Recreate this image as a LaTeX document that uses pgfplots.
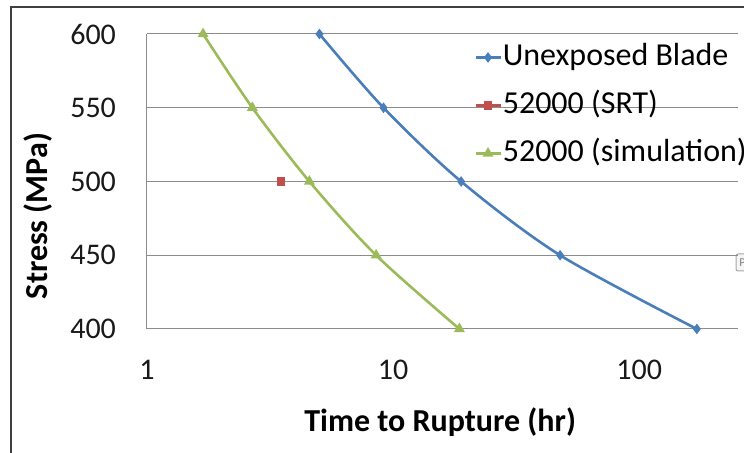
\documentclass[border=0pt]{standalone}
\usepackage{pgfplots}
\pgfplotsset{compat=1.18}
\usepackage{fontspec}
\setmainfont{Carlito}

\definecolor{xlblue}{HTML}{4A7EBB}
\definecolor{xlred}{HTML}{C0504D}
\definecolor{xlgreen}{HTML}{9BBB59}
\definecolor{gridgray}{HTML}{8C8C8C}

\begin{document}
\begin{tikzpicture}
% 1 px of the reference = 0.5pt
\path[use as bounding box] (0,0) rectangle (372pt,226.5pt);
\draw[black!75, line width=0.8pt] (5.5pt,0) -- (5.5pt,223pt) -- (372pt,223pt);
% paste-options button cut off at the right edge
\draw[gray!70, fill=gray!8, rounded corners=1pt, line width=0.5pt] (368pt,91pt) rectangle (380pt,99.5pt);
\node[anchor=west, inner sep=0pt, font=\fontsize{6}{7}\selectfont, gray] at (369.5pt,95.3pt) {P};

\begin{axis}[
    at={(73.5pt,62pt)}, anchor=south west,
    width=295.5pt, height=147.5pt, scale only axis,
    xmode=log,
    xmin=1, xmax=252,
    ymin=400, ymax=600,
    xtick={1,10,100}, xticklabels={1,10,100},
    ytick={400,450,500,550,600}, yticklabels={400,450,500,550,600},
    xminorticks=false, minor tick length=0pt,
    axis x line*=bottom, axis y line*=left,
    axis line style={gridgray, line width=0.5pt, -},
    ymajorgrids,
    grid style={gridgray, line width=0.5pt},
    major tick length=0pt,
    tick label style={font=\fontsize{15}{17}\selectfont, black!90},
    xticklabel style={yshift=-12pt},
    yticklabel style={xshift=-12pt},
    xlabel={Time to Rupture (hr)},
    ylabel={Stress (MPa)},
    label style={font=\fontsize{16}{18}\bfseries},
    xlabel style={at={(rel axis cs:0.496,-0.317)}, anchor=center},
    ylabel style={at={(rel axis cs:-0.184,0.383)}, anchor=center},
    clip mode=individual,
    legend cell align=left,
    legend style={at={(rel axis cs:0.553,0.976)}, anchor=north west,
        draw=none, fill=none, inner sep=0pt, font=\fontsize{16}{18}\selectfont,
        row sep=8pt, column sep=0pt,
        nodes={inner xsep=0.5pt, inner ysep=0pt, text height=12pt, text depth=4pt}},
    legend image code/.code={
        \draw[mark repeat=2, mark phase=2] plot coordinates {(0pt,0pt) (6.25pt,0pt) (12.5pt,0pt)};},
]
\addplot[xlblue, line width=1.3pt, smooth, mark=diamond*, mark size=1.6pt, mark options={solid}]
    coordinates {(5.02,600) (9.14,550) (18.9,500) (47.7,450) (171.5,400)};
\addlegendentry{Unexposed Blade}
\addplot[xlred, line width=1.3pt, mark=square*, mark size=1.5pt]
    coordinates {(3.50,500)};
\addlegendentry{52000 (SRT)}
\addplot[xlgreen, line width=1.3pt, smooth, mark=triangle*, mark size=1.9pt, mark options={solid}]
    coordinates {(1.69,600) (2.68,550) (4.57,500) (8.53,450) (18.6,400)};
\addlegendentry{52000 (simulation)}
\end{axis}
\end{tikzpicture}
\end{document}
